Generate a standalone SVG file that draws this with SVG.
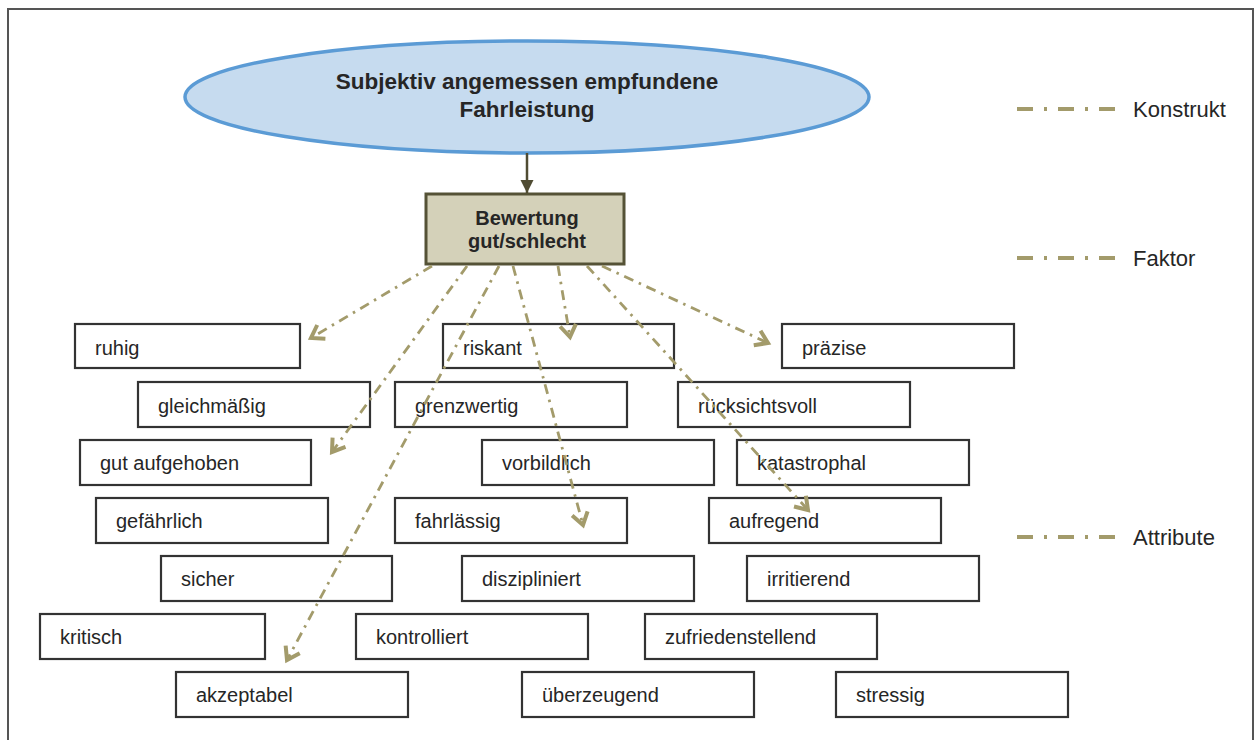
<svg xmlns="http://www.w3.org/2000/svg" width="1255" height="740" viewBox="0 0 1255 740">
<style>
  .box { fill: #ffffff; stroke: #333333; stroke-width: 2.2; }
  .lbl { font-family: "Liberation Sans", Arial, sans-serif; font-size: 20px; fill: #262626; }
  .leg { font-family: "Liberation Sans", Arial, sans-serif; font-size: 22px; fill: #262626; }
  .hdr { font-family: "Liberation Sans", Arial, sans-serif; font-weight: bold; fill: #262626; text-anchor: middle; }
  .conn { fill: none; stroke: #a39b6b; stroke-width: 2.8; stroke-dasharray: 10 6 2.5 6; }
  .legline { fill: none; stroke: #a39b6b; stroke-width: 4; stroke-dasharray: 16 11 3 11; }
</style>
<defs>
  <marker id="chev" markerUnits="userSpaceOnUse" markerWidth="30" markerHeight="30" viewBox="-15 -15 30 30" refX="0" refY="0" orient="auto">
    <path d="M-12,-8 L0,0 L-12,8" fill="none" stroke="#a39b6b" stroke-width="4" stroke-dasharray="none" stroke-linejoin="miter"/>
  </marker>
  <marker id="tri" markerUnits="userSpaceOnUse" markerWidth="20" markerHeight="20" viewBox="-15 -10 20 20" refX="0" refY="0" orient="auto">
    <path d="M-13,-6.5 L0,0 L-13,6.5 Z" fill="#504c33"/>
  </marker>
</defs>
<rect x="8" y="9" width="1245" height="740" fill="#ffffff" stroke="#555555" stroke-width="2"/>

<g id="construct">
  <ellipse cx="527" cy="97" rx="342" ry="56" fill="#c6dbef" stroke="#5b9bd5" stroke-width="3.5"/>
  <text class="hdr" x="527" y="89" font-size="22.5">Subjektiv angemessen empfundene</text>
  <text class="hdr" x="527" y="117" font-size="22.5">Fahrleistung</text>
</g>

<g id="factor">
  <rect x="426" y="194" width="198" height="70" fill="#d4d1b9" stroke="#555236" stroke-width="3"/>
  <text class="hdr" x="527" y="225" font-size="20">Bewertung</text>
  <text class="hdr" x="527" y="248" font-size="20">gut/schlecht</text>
</g>

<g id="n-ruhig"><rect class="box" x="75" y="324" width="225" height="44"/><text class="lbl" x="95" y="355">ruhig</text></g>
<g id="n-riskant"><rect class="box" x="443" y="324" width="231" height="44"/><text class="lbl" x="463" y="355">riskant</text></g>
<g id="n-praezise"><rect class="box" x="782" y="324" width="232" height="44"/><text class="lbl" x="802" y="355">präzise</text></g>

<g id="n-gleichmaessig"><rect class="box" x="138" y="382" width="232" height="45"/><text class="lbl" x="158" y="413">gleichmäßig</text></g>
<g id="n-grenzwertig"><rect class="box" x="395" y="382" width="232" height="45"/><text class="lbl" x="415" y="413">grenzwertig</text></g>
<g id="n-ruecksichtsvoll"><rect class="box" x="678" y="382" width="232" height="45"/><text class="lbl" x="698" y="413">rücksichtsvoll</text></g>

<g id="n-gutaufgehoben"><rect class="box" x="80" y="440" width="231" height="45"/><text class="lbl" x="100" y="470">gut aufgehoben</text></g>
<g id="n-vorbildlich"><rect class="box" x="482" y="440" width="232" height="45"/><text class="lbl" x="502" y="470">vorbildlich</text></g>
<g id="n-katastrophal"><rect class="box" x="737" y="440" width="232" height="45"/><text class="lbl" x="757" y="470">katastrophal</text></g>

<g id="n-gefaehrlich"><rect class="box" x="96" y="498" width="232" height="45"/><text class="lbl" x="116" y="528">gefährlich</text></g>
<g id="n-fahrlaessig"><rect class="box" x="395" y="498" width="232" height="45"/><text class="lbl" x="415" y="528">fahrlässig</text></g>
<g id="n-aufregend"><rect class="box" x="709" y="498" width="232" height="45"/><text class="lbl" x="729" y="528">aufregend</text></g>

<g id="n-sicher"><rect class="box" x="161" y="556" width="231" height="45"/><text class="lbl" x="181" y="586">sicher</text></g>
<g id="n-diszipliniert"><rect class="box" x="462" y="556" width="232" height="45"/><text class="lbl" x="482" y="586">diszipliniert</text></g>
<g id="n-irritierend"><rect class="box" x="747" y="556" width="232" height="45"/><text class="lbl" x="767" y="586">irritierend</text></g>

<g id="n-kritisch"><rect class="box" x="40" y="614" width="225" height="45"/><text class="lbl" x="60" y="644">kritisch</text></g>
<g id="n-kontrolliert"><rect class="box" x="356" y="614" width="232" height="45"/><text class="lbl" x="376" y="644">kontrolliert</text></g>
<g id="n-zufriedenstellend"><rect class="box" x="645" y="614" width="232" height="45"/><text class="lbl" x="665" y="644">zufriedenstellend</text></g>

<g id="n-akzeptabel"><rect class="box" x="176" y="672" width="232" height="45"/><text class="lbl" x="196" y="702">akzeptabel</text></g>
<g id="n-ueberzeugend"><rect class="box" x="522" y="672" width="232" height="45"/><text class="lbl" x="542" y="702">überzeugend</text></g>
<g id="n-stressig"><rect class="box" x="836" y="672" width="232" height="45"/><text class="lbl" x="856" y="702">stressig</text></g>

<g id="connectors">
  <line x1="527" y1="153" x2="527" y2="193" stroke="#504c33" stroke-width="2.5" marker-end="url(#tri)"/>
  <path class="conn" d="M432,266 L311,338" marker-end="url(#chev)"/>
  <path class="conn" d="M467,266 L332,452" marker-end="url(#chev)"/>
  <path class="conn" d="M499,266 L287,660" marker-end="url(#chev)"/>
  <path class="conn" d="M513,266 L583,525" marker-end="url(#chev)"/>
  <path class="conn" d="M558,266 L570,337" marker-end="url(#chev)"/>
  <path class="conn" d="M587,266 L808,510" marker-end="url(#chev)"/>
  <path class="conn" d="M602,266 L768,343" marker-end="url(#chev)"/>
</g>

<g id="legend">
  <line class="legline" x1="1017" y1="109" x2="1117" y2="109"/>
  <text class="leg" x="1133" y="117">Konstrukt</text>
  <line class="legline" x1="1017" y1="258" x2="1117" y2="258"/>
  <text class="leg" x="1133" y="266">Faktor</text>
  <line class="legline" x1="1017" y1="537" x2="1117" y2="537"/>
  <text class="leg" x="1133" y="545">Attribute</text>
</g>
</svg>
